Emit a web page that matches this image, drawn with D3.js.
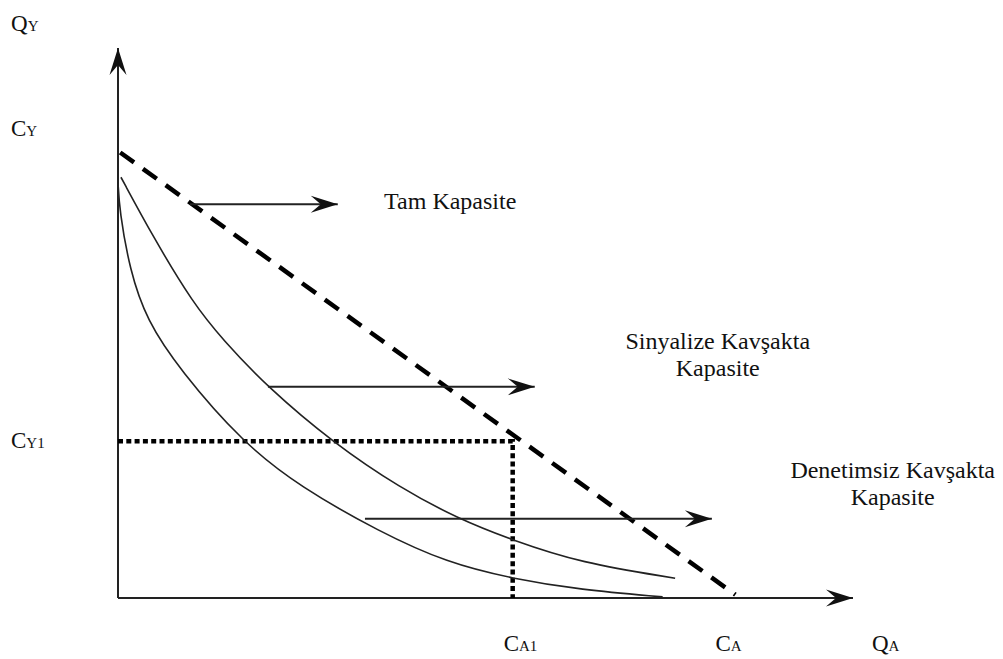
<!DOCTYPE html>
<html>
<head>
<meta charset="utf-8">
<script src="https://cdn.jsdelivr.net/npm/d3@7"></script>
<style>
  body { margin: 0; background: #fff; }
  svg { display: block; }
</style>
</head>
<body>
<svg id="chart"></svg>
<script>
// capacity curves (x = Q_A, y = Q_Y, both 0..100)
var tamKapasite = [[0.3, 81], [84, 0.6]];
var sinyalizeCurve = [[0.4, 76.5], [4.8, 65.6], [10.2, 53.6], [14.3, 46.9], [20.3, 38.4],
  [29.3, 28.2], [38.4, 20.0], [46.3, 14.4], [53.7, 10.5], [62.9, 6.4], [75.8, 3.6]];
var denetimsizCurve = [[0, 75.6], [0.2, 70.5], [1.6, 59.6], [3.9, 50.5], [8.4, 41.5],
  [17.0, 28.2], [24.8, 20.2], [35.6, 12.0], [44.8, 6.4], [53.7, 3.5], [62.9, 1.5], [74.1, 0.2]];
var cornerPoint = [53.7, 28.5];

// shift arrows: [x start, x end, y]
var shiftArrows = [[9.8, 29.9, 71.6], [20.4, 56.7, 38.4], [33.6, 80.8, 14.4]];

// axis labels: main letter, subscript, value on its axis
var yLabels = [["Q", "Y", 104.5], ["C", "Y", 85.5], ["C", "Y1", 28.8]];
var xLabels = [["C", "A1", 53.7], ["C", "A", 82.5], ["Q", "A", 103.8]];

// curve labels: lines of text, centre x, baseline y of the first line
var curveLabels = [
  [["Tam Kapasite"], 45.2, 70.7],
  [["Sinyalize Kavşakta", "Kapasite"], 81.6, 45.3],
  [["Denetimsiz Kavşakta", "Kapasite"], 105.4, 21.8]
];

var serif = "'Liberation Serif', Tinos, 'Times New Roman', Times, 'DejaVu Serif', serif";
var width = 1003, height = 659;
var svg = d3.select("#chart").attr("width", width).attr("height", height);

var x = d3.scaleLinear().domain([0, 100]).range([118, 853]);
var y = d3.scaleLinear().domain([0, 100]).range([598, 48]);

svg.append("defs").append("marker")
  .attr("id", "head")
  .attr("markerUnits", "userSpaceOnUse")
  .attr("viewBox", "-30 -10 32 20")
  .attr("refX", 0).attr("refY", 0)
  .attr("markerWidth", 32).attr("markerHeight", 20)
  .attr("orient", "auto")
  .append("path")
  .attr("d", "M0,0 L-27,-8.5 L-17,0 L-27,8.5 Z")
  .attr("fill", "#111");

// axes
svg.append("line")
  .attr("x1", x(0)).attr("y1", y(0)).attr("x2", x(0)).attr("y2", y(100))
  .attr("stroke", "#222").attr("stroke-width", 2)
  .attr("marker-end", "url(#head)");
svg.append("line")
  .attr("x1", x(0)).attr("y1", y(0)).attr("x2", x(100)).attr("y2", y(0))
  .attr("stroke", "#222").attr("stroke-width", 2)
  .attr("marker-end", "url(#head)");

var line = d3.line()
  .x(function(d) { return x(d[0]); })
  .y(function(d) { return y(d[1]); });
var curve = d3.line()
  .x(function(d) { return x(d[0]); })
  .y(function(d) { return y(d[1]); })
  .curve(d3.curveBasis);

// dotted guide lines
svg.append("path")
  .attr("d", line([[0, cornerPoint[1]], cornerPoint, [cornerPoint[0], 0]]))
  .attr("fill", "none").attr("stroke", "#000")
  .attr("stroke-width", 4.5).attr("stroke-dasharray", "5,3.3");

[sinyalizeCurve, denetimsizCurve].forEach(function(c) {
  svg.append("path")
    .attr("d", curve(c))
    .attr("fill", "none").attr("stroke", "#222").attr("stroke-width", 1.6);
});

svg.append("path")
  .attr("d", line(tamKapasite))
  .attr("fill", "none").attr("stroke", "#000")
  .attr("stroke-width", 4.5).attr("stroke-dasharray", "17,11");

svg.selectAll(".shift")
  .data(shiftArrows)
  .enter().append("line")
  .attr("class", "shift")
  .attr("x1", function(d) { return x(d[0]); })
  .attr("x2", function(d) { return x(d[1]); })
  .attr("y1", function(d) { return y(d[2]); })
  .attr("y2", function(d) { return y(d[2]); })
  .attr("stroke", "#222").attr("stroke-width", 2)
  .attr("marker-end", "url(#head)");

// axis labels
yLabels.forEach(function(d) {
  var t = svg.append("text").attr("x", 11).attr("y", y(d[2]) + 8)
    .style("font-family", serif).attr("fill", "#111");
  t.append("tspan").attr("font-size", 23).text(d[0]);
  t.append("tspan").attr("font-size", 15).text(d[1]);
});
xLabels.forEach(function(d) {
  var t = svg.append("text").attr("x", x(d[2]) - 9).attr("y", 651)
    .style("font-family", serif).attr("fill", "#111");
  t.append("tspan").attr("font-size", 23).text(d[0]);
  t.append("tspan").attr("font-size", 15).text(d[1]);
});

// curve labels
curveLabels.forEach(function(d) {
  var t = svg.append("text")
    .attr("text-anchor", "middle")
    .style("font-family", serif).attr("fill", "#111")
    .attr("font-size", 24);
  d[0].forEach(function(s, i) {
    t.append("tspan")
      .attr("x", x(d[1]))
      .attr("y", y(d[2]) + i * 27)
      .text(s);
  });
});
</script>
</body>
</html>
